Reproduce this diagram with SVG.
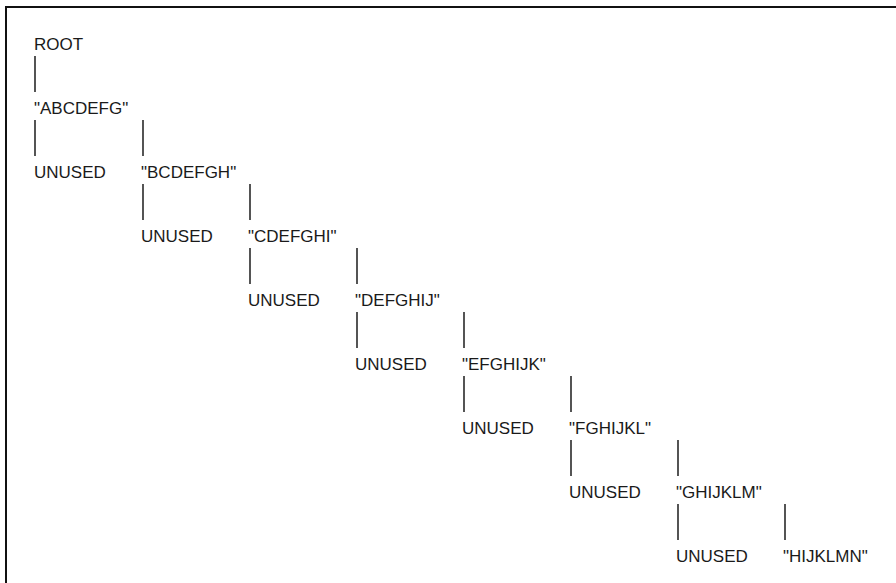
<svg xmlns="http://www.w3.org/2000/svg" width="896" height="583" viewBox="0 0 896 583">
<style>
text{font-family:"Liberation Sans",Arial,sans-serif;font-size:17px;fill:#1a1a1a}
.c line{stroke:#2a2a2a;stroke-width:1.6}
</style>
<rect x="0" y="0" width="896" height="583" fill="#fff"/>
<path d="M6 583V7H896" fill="none" stroke="#111" stroke-width="2"/>
<g class="c" id="connectors">
<line x1="35" y1="56" x2="35" y2="92"/>
<line x1="35" y1="120" x2="35" y2="156"/>
<line x1="143" y1="120" x2="143" y2="156"/>
<line x1="143" y1="184" x2="143" y2="220"/>
<line x1="250" y1="184" x2="250" y2="220"/>
<line x1="250" y1="248" x2="250" y2="284"/>
<line x1="357" y1="248" x2="357" y2="284"/>
<line x1="357" y1="312" x2="357" y2="348"/>
<line x1="464" y1="312" x2="464" y2="348"/>
<line x1="464" y1="376" x2="464" y2="412"/>
<line x1="571" y1="376" x2="571" y2="412"/>
<line x1="571" y1="440" x2="571" y2="476"/>
<line x1="678" y1="440" x2="678" y2="476"/>
<line x1="678" y1="504" x2="678" y2="540"/>
<line x1="785" y1="504" x2="785" y2="540"/>
</g>
<g id="n-root"><text x="34" y="50">ROOT</text></g>
<g id="n-abcdefg"><text x="34" y="114">"ABCDEFG"</text></g>
<g id="n-unused1"><text x="34" y="178">UNUSED</text></g>
<g id="n-bcdefgh"><text x="141" y="178">"BCDEFGH"</text></g>
<g id="n-unused2"><text x="141" y="242">UNUSED</text></g>
<g id="n-cdefghi"><text x="248" y="242">"CDEFGHI"</text></g>
<g id="n-unused3"><text x="248" y="306">UNUSED</text></g>
<g id="n-defghij"><text x="355" y="306">"DEFGHIJ"</text></g>
<g id="n-unused4"><text x="355" y="370">UNUSED</text></g>
<g id="n-efghijk"><text x="462" y="370">"EFGHIJK"</text></g>
<g id="n-unused5"><text x="462" y="434">UNUSED</text></g>
<g id="n-fghijkl"><text x="569" y="434">"FGHIJKL"</text></g>
<g id="n-unused6"><text x="569" y="498">UNUSED</text></g>
<g id="n-ghijklm"><text x="676" y="498">"GHIJKLM"</text></g>
<g id="n-unused7"><text x="676" y="562">UNUSED</text></g>
<g id="n-hijklmn"><text x="783" y="562">"HIJKLMN"</text></g>
</svg>
